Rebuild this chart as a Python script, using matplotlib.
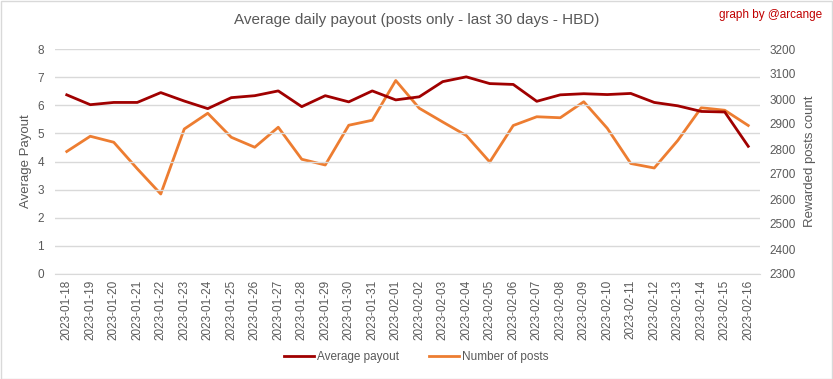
import matplotlib.pyplot as plt

plt.rcParams['font.family'] = ['Liberation Sans', 'DejaVu Sans']

dates = ['2023-01-18', '2023-01-19', '2023-01-20', '2023-01-21', '2023-01-22',
         '2023-01-23', '2023-01-24', '2023-01-25', '2023-01-26', '2023-01-27',
         '2023-01-28', '2023-01-29', '2023-01-30', '2023-01-31', '2023-02-01',
         '2023-02-02', '2023-02-03', '2023-02-04', '2023-02-05', '2023-02-06',
         '2023-02-07', '2023-02-08', '2023-02-09', '2023-02-10', '2023-02-11',
         '2023-02-12', '2023-02-13', '2023-02-14', '2023-02-15', '2023-02-16']

avg_payout = [6.37, 6.02, 6.10, 6.10, 6.45, 6.15, 5.88, 6.27, 6.34, 6.51,
              5.95, 6.34, 6.12, 6.51, 6.19, 6.30, 6.84, 7.01, 6.77, 6.74,
              6.14, 6.37, 6.41, 6.38, 6.42, 6.10, 5.98, 5.78, 5.76, 4.54]

num_posts = [2790, 2851, 2827, 2721, 2620, 2880, 2943, 2847, 2807, 2887,
             2759, 2736, 2895, 2915, 3074, 2963, 2908, 2854, 2748, 2894,
             2929, 2925, 2989, 2883, 2742, 2724, 2834, 2965, 2955, 2894]

grey = '#595959'
red = '#A00000'
orange = '#ED7D31'

fig = plt.figure(figsize=(8.33, 3.79), dpi=100)
ax = fig.add_axes([55 / 833, 1 - 274 / 379, 705 / 833, 225 / 379])
ax2 = ax.twinx()

x = range(len(dates))
ax.plot(x, avg_payout, color=red, lw=2, label='Average payout', zorder=3)
ax2.plot(x, num_posts, color=orange, lw=2, label='Number of posts')
ax.set_zorder(ax2.get_zorder() + 1)
ax.patch.set_visible(False)

ax.set_ylim(0, 8)
ax.set_yticks(range(0, 9))
ax2.set_ylim(2300, 3200)
ax2.set_yticks(range(2300, 3201, 100))
ax.set_xlim(-0.5, len(dates) - 0.5)
ax.set_xticks(list(x))
ax.set_xticklabels(dates, rotation=90)

ax.grid(axis='y', color='#D9D9D9', lw=1)
for a in (ax, ax2):
    for s in a.spines.values():
        s.set_visible(False)
    a.tick_params(length=0, colors=grey, labelsize=8.5)
ax.spines['bottom'].set_visible(True)
ax.spines['bottom'].set_color('#D9D9D9')
ax.tick_params(axis='y', pad=8)
ax2.tick_params(axis='y', pad=7)
ax.tick_params(axis='x', pad=4)

ax.set_ylabel('Average Payout', color=grey, fontsize=9.5, labelpad=4)
ax2.set_ylabel('Rewarded posts count', color=grey, fontsize=9.5, labelpad=6)

fig.text(0.5, 1 - 20 / 379, 'Average daily payout (posts only - last 30 days - HBD)',
         ha='center', va='center', color=grey, fontsize=11)
fig.text(822 / 833, 1 - 15 / 379, 'graph by @arcange', ha='right', va='center',
         color='#C00000', fontsize=8.5)

h1, l1 = ax.get_legend_handles_labels()
h2, l2 = ax2.get_legend_handles_labels()
fig.legend(h1 + h2, l1 + l2, loc='center', bbox_to_anchor=(0.5, 1 - 357 / 379),
           ncol=2, frameon=False, fontsize=8.5, labelcolor=grey,
           handlelength=2.5, columnspacing=2.5, handletextpad=0.3)

border = plt.Rectangle((0.001, 0.001), 0.998, 0.997, transform=fig.transFigure,
                       fill=False, edgecolor='#D9D9D9', lw=1)
fig.patches.append(border)

fig.savefig('out.png', dpi=100)
